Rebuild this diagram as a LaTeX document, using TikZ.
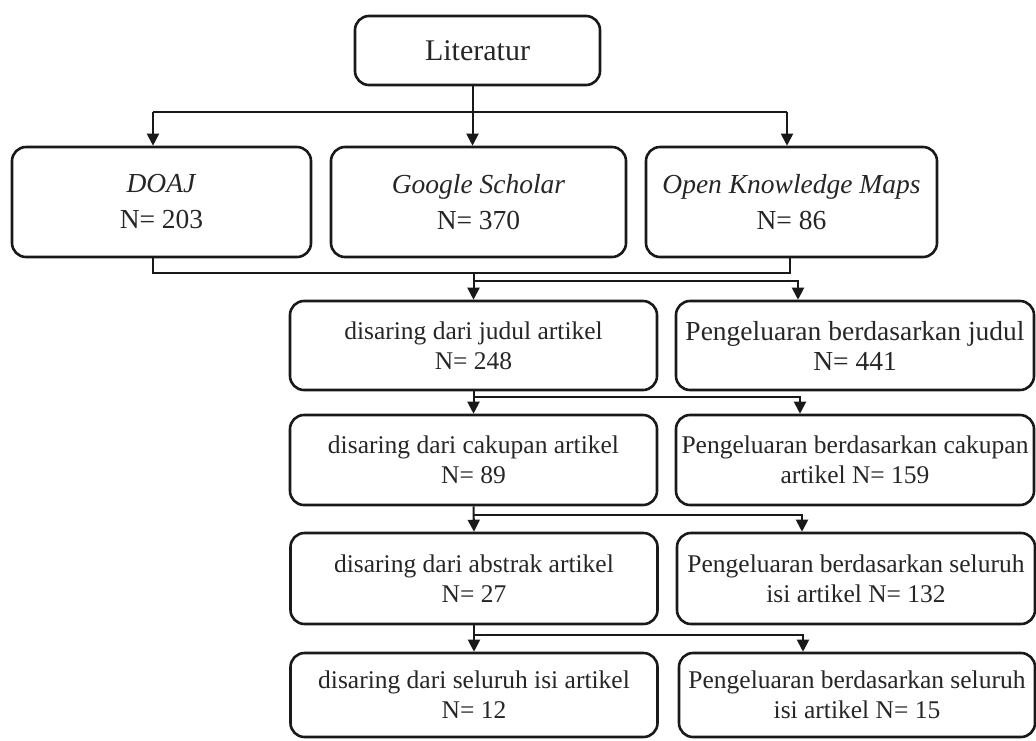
\documentclass[tikz,border=0pt]{standalone}
\usepackage{fontspec}
\setmainfont{Liberation Serif}
\usetikzlibrary{arrows.meta}
\begin{document}
\begin{tikzpicture}[x=1pt,y=-1pt,
  box/.style={draw=black!90,line width=2.6pt,rounded corners=14pt,inner sep=0pt,align=center,text=black!85},
  topf/.style={font=\fontsize{27.5}{36}\selectfont},
  rowf/.style={font=\fontsize{25.5}{30}\selectfont},
  judf/.style={font=\fontsize{27.5}{30}\selectfont},
  conn/.style={draw=black!90,line width=2pt},
  arr/.style={conn,-{Triangle[width=12pt,length=12pt]}}]
\useasboundingbox (0,0) rectangle (1036,740);
% boxes
\node[box,minimum width=245pt,minimum height=69pt,font=\fontsize{30}{36}\selectfont] (lit) at (477.5,50.5) {Literatur};
\node[box,topf,minimum width=299pt,minimum height=110pt] (doaj) at (161.5,202) {\textit{DOAJ}\\N= 203};
\node[box,topf,minimum width=295pt,minimum height=110pt] (gs) at (478.5,202) {\textit{Google Scholar}\\N= 370};
\node[box,topf,minimum width=291pt,minimum height=110pt] (okm) at (791.5,202) {\textit{Open Knowledge Maps}\\N= 86};
\node[box,rowf,minimum width=367pt,minimum height=89pt] (r1) at (473.5,345.5) {disaring dari judul artikel\\N= 248};
\node[box,judf,minimum width=358pt,minimum height=89pt] (p1) at (855,345.5) {Pengeluaran berdasarkan judul\\N= 441};
\node[box,rowf,minimum width=367pt,minimum height=90pt] (r2) at (473.5,460) {disaring dari cakupan artikel\\N= 89};
\node[box,rowf,minimum width=358pt,minimum height=90pt] (p2) at (855,460) {Pengeluaran berdasarkan cakupan\\artikel N= 159};
\node[box,rowf,minimum width=367pt,minimum height=91pt] (r3) at (474,578.5) {disaring dari abstrak artikel\\N= 27};
\node[box,rowf,minimum width=358pt,minimum height=91pt] (p3) at (856,578.5) {Pengeluaran berdasarkan seluruh\\isi artikel N= 132};
\node[box,rowf,minimum width=367pt,minimum height=84pt] (r4) at (474,695) {disaring dari seluruh isi artikel\\N= 12};
\node[box,rowf,minimum width=356pt,minimum height=84pt] (p4) at (857,695) {Pengeluaran berdasarkan seluruh\\isi artikel N= 15};
% top distribution
\coordinate (t1) at (153,112);
\coordinate (t2) at (787,112);
\draw[arr] ([xshift=-5pt]lit.south) -- ([xshift=-5pt]lit.south |- gs.north);
\draw[conn] (t1) -- (t2);
\draw[arr] (t1) -- (t1 |- doaj.north);
\draw[arr] (t2) -- (t2 |- okm.north);
% bottom collection
\coordinate (u1) at (153,273);
\coordinate (u2) at (790,273);
\draw[conn] (u1 |- doaj.south) -- (u1) -- (u2) -- (u2 |- okm.south);
\draw[arr] (r1.north |- u1) -- (r1.north);
\coordinate (v1) at (798,281);
\draw[arr] (r1.north |- v1) -- (v1) -- (v1 |- p1.north);
% rows
\coordinate (v2) at (800,397);
\coordinate (v3) at (802,515);
\coordinate (v4) at (803,635);
\draw[arr] (r1.south) -- (r2.north);
\draw[arr] (r1.south |- v2) -- (v2) -- (v2 |- p2.north);
\draw[arr] (r2.south) -- (r3.north);
\draw[arr] (r2.south |- v3) -- (v3) -- (v3 |- p3.north);
\draw[arr] (r3.south) -- (r4.north);
\draw[arr] (r3.south |- v4) -- (v4) -- (v4 |- p4.north);
\end{tikzpicture}
\end{document}
